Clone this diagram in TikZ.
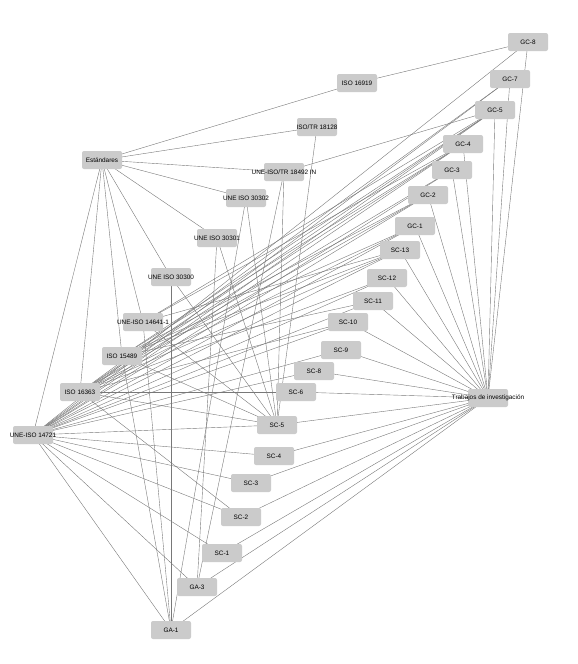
\documentclass[tikz,border=0pt]{standalone}
\usepackage{fontspec}
\setmainfont{Liberation Sans}
\definecolor{boxgray}{HTML}{CBCBCB}
\definecolor{linegray}{HTML}{787878}
\newcommand{\tx}[1]{\makebox[0pt]{#1}}
\pgfdeclarelayer{bg}
\pgfsetlayers{bg,main}

\begin{document}
\begin{tikzpicture}[x=1pt,y=-1pt,line width=1pt]
\tikzstyle{vertex}=[fill=boxgray,rounded corners=2pt,minimum width=40pt,minimum height=18pt,inner sep=0pt,font=\fontsize{6.4}{7}\selectfont,text=black]
\tikzstyle{link}=[draw=linegray]
\useasboundingbox (0,0) rectangle (578,664);
% two hubs
\node[vertex] (E) at (102,160) {\tx{Estándares}};
\node[vertex] (T) at (488,398) {\tx{Trabajos de investigación}};
% standards
\node[vertex] (I16919) at (357,83) {\tx{ISO 16919}};
\node[vertex] (T18128) at (317,127) {\tx{ISO/TR 18128}};
\node[vertex] (T18492) at (284,172) {\tx{UNE-ISO/TR 18492 IN}};
\node[vertex] (U30302) at (246,198) {\tx{UNE ISO 30302}};
\node[vertex] (U30301) at (217,238) {\tx{UNE ISO 30301}};
\node[vertex] (U30300) at (171,277) {\tx{UNE ISO 30300}};
\node[vertex] (U14641) at (143,322) {\tx{UNE-ISO 14641-1}};
\node[vertex] (I15489) at (122,356) {\tx{ISO 15489}};
\node[vertex] (I16363) at (80,392) {\tx{ISO 16363}};
\node[vertex] (U14721) at (33,435) {\tx{UNE-ISO 14721}};
% works
\node[vertex] (GC8) at (528,42) {\tx{GC-8}};
\node[vertex] (GC7) at (510,79) {\tx{GC-7}};
\node[vertex] (GC5) at (495,110) {\tx{GC-5}};
\node[vertex] (GC4) at (463,144) {\tx{GC-4}};
\node[vertex] (GC3) at (452,170) {\tx{GC-3}};
\node[vertex] (GC2) at (428,195) {\tx{GC-2}};
\node[vertex] (GC1) at (415,226) {\tx{GC-1}};
\node[vertex] (SC13) at (400,250) {\tx{SC-13}};
\node[vertex] (SC12) at (387,278) {\tx{SC-12}};
\node[vertex] (SC11) at (373,301) {\tx{SC-11}};
\node[vertex] (SC10) at (348,322) {\tx{SC-10}};
\node[vertex] (SC9) at (341,350) {\tx{SC-9}};
\node[vertex] (SC8) at (314,371) {\tx{SC-8}};
\node[vertex] (SC6) at (296,392) {\tx{SC-6}};
\node[vertex] (SC5) at (277,425) {\tx{SC-5}};
\node[vertex] (SC4) at (274,456) {\tx{SC-4}};
\node[vertex] (SC3) at (251,483) {\tx{SC-3}};
\node[vertex] (SC2) at (241,517) {\tx{SC-2}};
\node[vertex] (SC1) at (222,553) {\tx{SC-1}};
\node[vertex] (GA3) at (197,587) {\tx{GA-3}};
\node[vertex] (GA1) at (171,630) {\tx{GA-1}};

\begin{pgfonlayer}{bg}
\foreach \n in {I16919,T18128,T18492,U30302,U30301,U30300,U14641,I15489,I16363,U14721}
  \draw[link] (E.center) -- (\n.center);
\foreach \n in {GC8,GC7,GC5,GC4,GC3,GC2,GC1,SC13,SC12,SC11,SC10,SC9,SC8,SC6,SC5,SC4,SC3,SC2,SC1,GA3,GA1}
  \draw[link] (T.center) -- (\n.center);
\draw[link] (I16919.center) -- (GC8.center);
\draw[link] (T18128.center) -- (SC5.center);
\foreach \n in {GC5,SC5,GA3}
  \draw[link] (T18492.center) -- (\n.center);
\foreach \n in {SC5,GA1}
  \draw[link] (U30302.center) -- (\n.center);
\foreach \n in {SC5,GA3}
  \draw[link] (U30301.center) -- (\n.center);
\foreach \n in {SC5,GA1}
  \draw[link] (U30300.center) -- (\n.center);
\foreach \n in {GC5,GC4,SC13,SC5,GA1}
  \draw[link] (U14641.center) -- (\n.center);
\foreach \n in {GC5,GC4,GC2,GC1,SC13,SC11,SC5,GA1}
  \draw[link] (I15489.center) -- (\n.center);
\foreach \n in {GC7,GC5,GC4,GC3,GC2,GC1,SC13,SC12,SC10,SC6,SC5,SC2}
  \draw[link] (I16363.center) -- (\n.center);
\foreach \n in {GC8,GC7,GC5,GC4,GC3,GC2,GC1,SC13,SC12,SC11,SC10,SC9,SC8,SC5,SC4,SC3,SC2,SC1,GA3,GA1}
  \draw[link] (U14721.center) -- (\n.center);
\end{pgfonlayer}
\end{tikzpicture}
\end{document}
